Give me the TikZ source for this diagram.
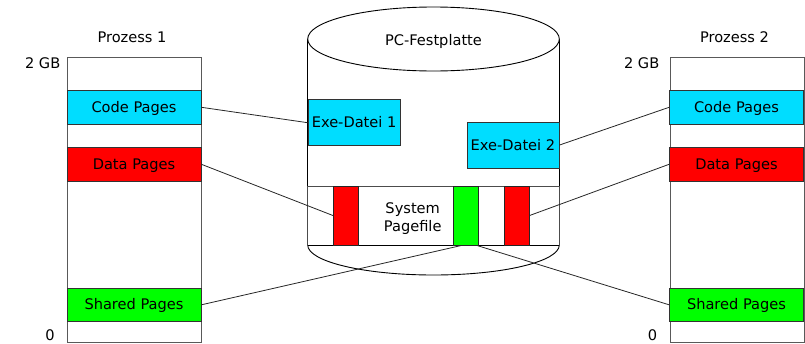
\documentclass[tikz,border=0pt]{standalone}
\usepackage{fontspec}
\setmainfont{DejaVu Sans}
\usepackage{tikz}
\usetikzlibrary{calc}

\definecolor{pagecyan}{RGB}{0,221,255}
\definecolor{pagered}{RGB}{255,0,0}
\definecolor{pagegreen}{RGB}{0,255,0}

\tikzset{
  lbl/.style={inner sep=0pt,font=\fontsize{14.6}{17.5}\selectfont},
  mem/.style={draw=black!65,line width=0.9pt,fill=white,minimum width=134pt,
    minimum height=285pt,inner sep=0pt,anchor=north west},
  pg/.style={draw=black!80,line width=0.8pt,minimum width=134pt,minimum height=33.5pt,
    inner sep=0pt,text depth=1pt,font=\fontsize{14.6}{17.5}\selectfont},
  exe/.style={pg,fill=pagecyan,minimum width=92pt,minimum height=46pt},
  blk/.style={draw=black!85,line width=0.8pt,minimum width=25pt,minimum height=59pt,inner sep=0pt},
  link/.style={line width=0.8pt,black!85}
}

\begin{document}
\begin{tikzpicture}[x=1pt,y=-1pt]
  \useasboundingbox (0,0) rectangle (805,343);
  % Disk parameters
  \def\dl{307.7}
  \def\dr{559.3}
  \def\dc{433.5}
  %
  % Prozess 1
  \node[lbl] (title1) at (132,37) {Prozess 1};
  \node[mem] (mem1) at (67,57) {};
  \node[lbl,anchor=east] (top1) at (60.5,63) {2 GB};
  \node[lbl] (zero1) at (50,335) {0};
  \node[pg,fill=pagecyan] (code1) at (134,107.3) {Code Pages};
  \node[pg,fill=pagered] (data1) at (134,164.3) {Data Pages};
  \node[pg,fill=pagegreen] (shared1) at (134,304.8) {Shared Pages};
  %
  % Prozess 2
  \node[lbl] (title2) at (734.5,37) {Prozess 2};
  \node[mem] (mem2) at (670,57) {};
  \node[lbl,anchor=east] (top2) at (659.5,63) {2 GB};
  \node[lbl] (zero2) at (652.5,335) {0};
  \node[pg,fill=pagecyan] (code2) at (736.5,107.3) {Code Pages};
  \node[pg,fill=pagered] (data2) at (736.5,164.3) {Data Pages};
  \node[pg,fill=pagegreen] (shared2) at (736.5,304.8) {Shared Pages};
  %
  % Festplatte
  \draw[line width=0.9pt,fill=white] (\dc,245) ellipse [x radius=125.8, y radius=30];
  \fill[white] (\dl,39) rectangle (\dr,245);
  \draw[line width=0.9pt] (\dl,39) -- (\dl,245) (\dr,39) -- (\dr,245);
  \draw[line width=0.9pt,fill=white] (\dc,39) ellipse [x radius=125.8, y radius=32];
  \node[lbl] (disk) at (\dc,41) {PC-Festplatte};
  %
  % Pagefile
  \draw[line width=0.9pt,draw=black!70,fill=white] (\dl,186) rectangle (\dr,245);
  \draw[line width=0.9pt] (\dl,245) -- (\dr,245);
  \node[blk,fill=pagered] (red1) at (345.8,215.5) {};
  \node[blk,fill=pagegreen] (green) at (466.2,215.5) {};
  \node[blk,fill=pagered] (red2) at (516.7,215.5) {};
  \node[lbl,align=center] (pagefile) at (412.7,218.5) {System\\Pagefile};
  %
  % Exe files
  \node[exe,anchor=north west] (exe1) at (\dl,99.3) {Exe-Datei 1};
  \node[exe,anchor=north east] (exe2) at (\dr,121.7) {Exe-Datei 2};
  %
  % Links
  \draw[link] (code1.east) -- (exe1.west);
  \draw[link] (data1.east) -- (red1.west);
  \draw[link] (shared1.east) -- ([xshift=-4.5pt]green.south);
  \draw[link] ([xshift=10.5pt]green.south) -- (shared2.west);
  \draw[link] (code2.west) -- (exe2.east);
  \draw[link] (data2.west) -- (red2.east);
\end{tikzpicture}
\end{document}
